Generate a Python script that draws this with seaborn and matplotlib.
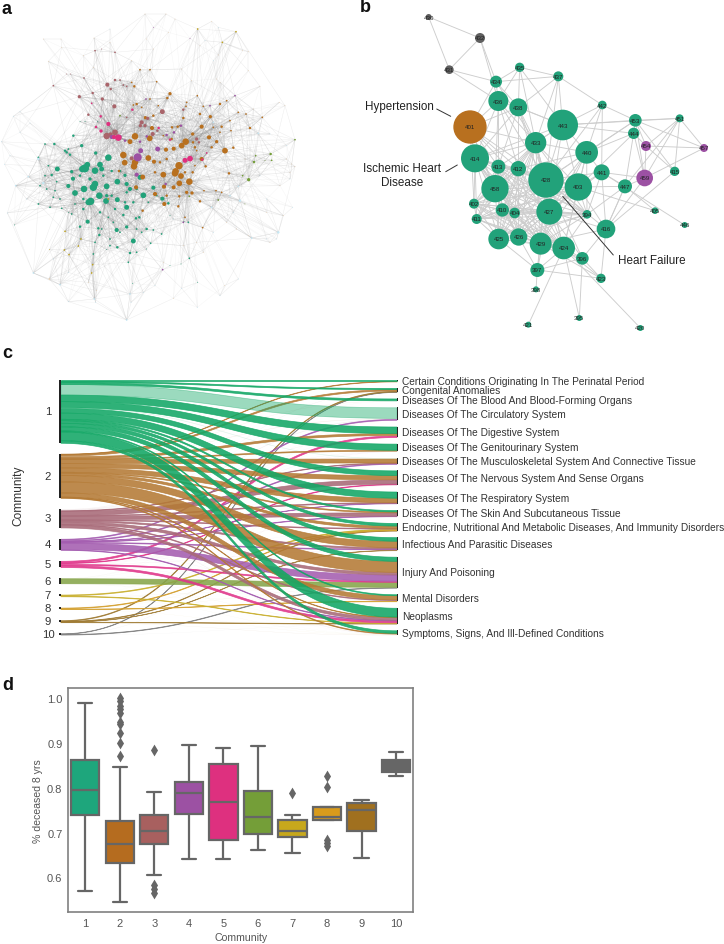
import itertools
import numpy as np
import pandas as pd
import matplotlib
matplotlib.use("Agg")
import matplotlib.pyplot as plt
from matplotlib.collections import LineCollection
import seaborn as sns

sns.set_theme(style="white")
plt.rcParams["font.family"] = ["Liberation Sans", "DejaVu Sans"]

W, H = 724, 945
fig = plt.figure(figsize=(W / 100, H / 100), dpi=100)


def make_ax(x0, y0, x1, y1):
    return fig.add_axes([x0 / W, 1 - y1 / H, (x1 - x0) / W, (y1 - y0) / H])


# ---------------------------------------------------------------- colours
NODE_COL = {"1": "#22a27a", "2": "#b8701f", "3": "#a9646a", "4": "#9c51a3", "5": "#e0307f",
            "6": "#749e38", "7": "#c2a51e", "8": "#d79b20", "9": "#a06f21", "10": "#5f5f5f",
            "lb": "#c5e8f5", "pe": "#f0d6b8"}
BOX_COL = ["#1ea67c", "#b56c1f", "#a8605f", "#9c51a3", "#de307f",
           "#749e38", "#c7a81c", "#d99b1c", "#a0701f", "#666666"]
FLOW_COL = ["#12a765", "#b47a35", "#a86a78", "#a45db0", "#e0358a",
            "#86a54a", "#c9b030", "#d4a030", "#a07c35", "#808080"]

# ---------------------------------------------------------------- panel a data
a_c1 = [(255,508,10),(247,510,8),(262,497,7),(325,476,8),(300,497,7),(285,515,8),(305,510,6),(172,510,6),(285,555,8),
        (280,565,9),(252,570,8),(225,582,7),(298,590,8),(320,562,7),(352,548,7),(318,606,7),(272,607,9),(265,610,7),
        (352,602,6),(430,589,7),(380,555,5),(390,570,5),(263,668,5),(380,625,6),(400,726,6),(350,693,5),(380,684,4),
        (205,561,5),(219,539,5),(215,518,4),(245,440,4),(287,462,4),(335,516,3),(360,516,3),(375,529,4),(420,535,6),
        (460,566,5),(487,599,5),(505,613,3),(200,460,3),(195,455,3),(210,467,3),(220,410,3),(135,435,2),(163,435,3),
        (115,475,2),(145,500,2),(155,528,3),(135,530,2),(165,575,2),(140,570,2),(160,595,2),(185,628,2),(215,645,2),
        (240,683,3),(295,688,3),(298,708,3),(285,730,2),(330,740,2),(352,745,3),(390,762,3),(410,760,2),(452,733,2),
        (440,690,3),(460,693,2),(485,705,2),(418,655,3),(408,658,3),(370,648,3),(325,655,2),(300,640,3),(250,630,3),
        (225,615,2),(150,625,2),(115,615,2),(43,678,1),(385,790,2),(568,778,2),(510,800,1),(543,795,1),(593,850,1),
        (398,853,1),(280,765,2),(240,368,1),(255,367,1),(292,367,1),(205,450,2),(170,548,2),(120,560,2),(180,600,2),
        (250,600,3),(310,530,3),(335,590,3),(345,630,3),(375,610,3),(400,610,3),(340,670,2),(360,700,2),(410,690,2),
        (425,700,2),(440,750,1),(330,720,2),(305,690,2),(320,752,1),(240,720,1),(205,640,1),(320,590,4),(270,540,4),
        (240,530,3),(380,580,3),(410,570,3),(445,610,2),(470,590,2),(565,670,2),(552,668,1),(510,650,1)]
a_c2 = [(370,468,8),(374,491,7),(405,490,8),(402,502,8),(445,477,7),(462,488,5),(498,452,5),(521,449,5),(545,440,7),
        (557,428,8),(537,500,9),(527,517,8),(525,523,8),(490,527,7),(543,531,7),(568,548,8),(538,553,7),(521,565,5),
        (492,563,5),(465,585,5),(493,615,5),(560,580,4),(576,582,4),(675,455,7),(605,383,5),(631,353,4),(627,415,5),
        (650,428,4),(700,446,3),(750,387,3),(578,405,4),(516,385,3),(533,383,3),(405,412,8),(390,428,6),(449,418,7),
        (456,387,5),(460,350,3),(436,356,4),(510,284,4),(502,297,3),(403,262,3),(395,250,2),(420,212,2),(450,212,2),
        (428,534,6),(408,565,5),(538,592,3),(600,607,3),(617,502,3),(605,480,5),(578,520,3),(579,430,3),(550,357,3),
        (560,310,2),(592,290,2),(600,345,3),(660,315,3),(680,305,2),(715,340,2),(738,345,2),(787,355,2),(690,365,2),
        (693,395,2),(640,385,2),(665,383,3),(610,322,2),(558,322,2),(410,315,3),(425,325,2),(400,318,2),(465,520,3),
        (480,490,3),(500,480,3),(515,420,3),(490,410,2),(540,380,2),(428,635,3),(555,655,2),(608,686,2),(535,622,3),
        (648,575,2),(665,580,2),(687,523,3),(612,575,2),(585,445,3),(357,516,3),(470,248,2),(450,300,2),(475,320,2),
        (590,455,2),(635,445,3),(660,400,2),(555,520,3),(585,500,2),(500,590,3)]
a_c3 = [(320,411,8),(345,400,7),(332,406,5),(487,338,6),(443,358,4),(425,370,5),(435,380,4),(421,380,4),(458,405,5),
        (472,395,3),(395,478,5),(343,322,5),(307,300,4),(278,282,3),(238,293,4),(265,347,3),(322,257,5),(332,270,3),
        (345,243,3),(360,243,2),(252,237,2),(285,155,2),(345,160,2),(160,260,2),(550,332,3),(590,420,4),(597,430,3),
        (212,225,1),(200,225,1),(305,150,1),(380,355,2),(370,258,2),(380,262,2)]
a_c4 = [(413,475,10),(422,455,6),(473,450,6),(410,527,5),(335,414,5),(360,413,4),(375,425,3),(420,428,3),(440,412,3),
        (500,408,3),(522,400,3),(543,380,3),(570,118,1),(460,85,1),(705,290,2),(630,320,2),(438,300,2),(488,812,2),
        (497,555,3),(550,670,2)]
a_c5 = [(355,416,8),(342,414,5),(325,375,5),(570,479,7),(555,484,6),(476,387,3),(397,332,3),(302,352,3),(288,384,3),
        (303,396,4),(510,422,3),(607,482,3),(620,462,2),(275,313,2)]
a_c6 = [(746,542,4),(762,489,3),(812,465,3),(767,470,2),(728,530,2),(815,484,2),(885,422,2),(795,485,1),(568,592,2),
        (655,603,2),(735,615,1),(360,350,2)]
a_c78 = [(195,697,2),(148,752,1),(193,753,2),(235,741,2),(243,720,2),(207,767,2),(278,797,2),(275,822,2),(325,600,2),
         (667,130,2),(708,98,2),(593,90,2)]
a_lb = [(5,428,1),(60,338,1),(40,352,1),(90,372,1),(115,480,3),(130,552,3),(47,560,2),(14,496,1),(85,533,2),(22,642,1),
        (100,822,2),(205,820,1),(180,857,2),(205,908,1),(380,963,2),(393,910,1),(390,885,2),(465,860,1),(592,925,1),
        (545,868,1),(660,890,1),(715,840,1),(835,700,3),(755,717,2),(878,625,1),(870,540,1),(720,605,3),(690,590,2),
        (635,625,2),(715,562,2),(775,403,2),(640,370,2),(330,90,1),(655,85,1),(615,125,1),(640,185,1),(283,900,2),
        (60,400,1),(30,470,1),(80,600,1),(160,780,1),(287,910,1),(430,880,1),(520,660,1),(800,600,1),(810,405,1),
        (860,440,1),(780,530,1),(700,640,1),(640,700,1),(830,720,1),(800,720,1)]
a_pe = [(435,45,1),(498,45,1),(525,60,1),(635,67,1),(745,158,1),(728,155,1),(655,168,1),(505,100,1),(282,117,1),(183,120,1),
        (145,187,1),(185,145,1),(280,205,1),(745,215,1),(650,240,1),(780,262,1),(855,320,1),(838,310,1),(885,503,1),(870,520,1),
        (875,495,1),(850,650,1),(810,730,1),(745,710,1),(710,690,1),(673,860,1),(520,898,1),(290,875,1),(265,850,1),(148,840,2),
        (460,150,1),(395,185,1),(545,210,1),(575,245,1),(680,670,1),(490,790,1),(550,740,1),(590,730,1),(610,760,1),(600,140,1),
        (130,120,1),(440,120,1),(330,130,1),(250,170,1),(760,330,1),(840,560,1),(860,480,1),(800,640,1),(735,480,1),(660,250,1)]
a_groups = {"1": a_c1, "2": a_c2, "3": a_c3, "4": a_c4, "5": a_c5, "6": a_c6, "7": a_c78, "lb": a_lb, "pe": a_pe}
# neighbour ranks linked from each node, by node radius: small nodes keep to their nearest neighbours, hubs reach far
a_ranks_small = [1, 2, 4]
a_ranks_mid = [1, 2, 3, 4, 6, 9, 13, 18, 25, 34]
a_ranks_large = [1, 2, 3, 4, 5, 6, 8, 10, 13, 16, 20, 25, 30, 36, 42, 50, 60, 70, 80, 95, 110, 130]
a_hub_links = 2

# ---------------------------------------------------------------- panel b data
b_nodes = ["430","432","431","435","437","434","436","438","442","443","453","444","451","433","440","414","413","412",
           "428","403","441","447","415","458","402","410","404","411","427","394","416","425","426","429","424","396",
           "397","423","398","421","395","420","405","446","401","454","457","459"]
b_x = [146,300,208,419,535,348,355,415,667,548,766,761,899,467,620,285,355,415,
       498,595,665,735,884,345,282,367,404,290,508,621,678,356,416,482,551,607,
       472,663,468,445,598,781,825,914,270,798,972,794]
b_y = [54,117,212,205,232,248,306,325,318,378,364,403,358,431,460,478,503,509,
       543,564,520,562,517,569,614,633,642,660,638,646,690,720,714,734,747,778,
       813,838,871,977,957,987,635,678,384,441,447,537]
b_r = [9,15,13,14,15,18,30,27,13,46,19,17,12,32,34,42,21,23,
       53,41,24,21,14,41,15,20,16,15,39,13,28,31,26,33,34,19,
       21,14,9,9,9,9,10,9,50,15,12,25]
b_comm = ["10","10","10"] + ["1"] * 41 + ["2", "4", "4", "4"]
b_core = ["414","413","412","428","458","402","410","404","411","427","394","425","426","429","424","403","433"]
b_edges = """430-432 430-431 431-432 432-434 432-436 431-434 431-436 435-434 435-436 435-438 435-437 435-433
435-443 434-437 434-436 434-438 436-438 437-438 437-443 437-433 437-442 437-428 442-443 442-440 442-453 442-441 442-428
443-453 443-444 443-451 443-433 443-440 443-428 443-438 443-403 443-427 453-451 453-444 453-454 453-459 453-415 453-428
453-440 444-454 444-459 444-447 444-440 444-403 451-454 451-459 451-415 451-447 454-457 454-459 454-415
457-453 457-451 457-459 459-447 459-441 459-416 415-416 447-441 447-403 447-416 447-405 441-403 441-440
441-428 441-446 440-403 440-428 440-433 440-412 440-427 403-405 436-401 436-433 436-414 436-413
436-412 436-428 436-458 438-401 438-433 438-443 438-428 438-412 438-413 438-427 434-433 434-401 433-443 433-428 433-427
401-414 401-413 401-412 401-428 401-458 401-433 401-427 401-402 401-410
414-443 414-438 397-425 397-426 397-429 397-424 397-427 397-428 397-396 397-423 416-403 416-428 416-427 416-429
397-398 421-424 395-424 395-396 420-424 423-396 423-424 423-416 423-429 396-428 396-427 396-416 396-429 396-424
416-441 416-447 394-441 394-447 394-440 429-440 424-440 427-441 426-440 425-433""".split()

# ---------------------------------------------------------------- panel c data
communities = ["1", "2", "3", "4", "5", "6", "7", "8", "9", "10"]
categories = ["Certain Conditions Originating In The Perinatal Period", "Congenital Anomalies",
              "Diseases Of The Blood And Blood-Forming Organs", "Diseases Of The Circulatory System",
              "Diseases Of The Digestive System", "Diseases Of The Genitourinary System",
              "Diseases Of The Musculoskeletal System And Connective Tissue",
              "Diseases Of The Nervous System And Sense Organs", "Diseases Of The Respiratory System",
              "Diseases Of The Skin And Subcutaneous Tissue",
              "Endocrine, Nutritional And Metabolic Diseases, And Immunity Disorders",
              "Infectious And Parasitic Diseases", "Injury And Poisoning", "Mental Disorders", "Neoplasms",
              "Symptoms, Signs, And Ill-Defined Conditions"]
flows = np.array([
    [1.2, 1.2, 1.8, 10.8, 6.5, 6.5, 0.6, 4.8, 6.2, 1.4, 2.4, 3.5, 3.8, 1.0, 9.3, 3.2],
    [0.5, 1.4, 0.3, 0.5, 2.0, 1.0, 3.5, 4.5, 4.6, 1.0, 2.2, 6.5, 10.5, 4.4, 0.6, 1.0],
    [0.0, 0.3, 0.1, 0.6, 0.3, 0.2, 0.5, 4.3, 0.8, 3.4, 0.7, 1.3, 2.4, 0.8, 2.8, 0.6],
    [0.0, 0.0, 0.0, 0.9, 0.2, 0.3, 0.7, 0.2, 0.4, 0.6, 0.0, 0.8, 6.0, 0.2, 0.7, 0.1],
    [0.0, 0.0, 0.0, 0.0, 1.5, 0.2, 0.0, 0.6, 0.2, 0.2, 0.1, 0.3, 1.0, 0.2, 2.0, 0.0],
    [0.0, 0.0, 0.0, 0.1, 0.1, 0.0, 0.0, 0.1, 0.0, 0.0, 0.0, 0.1, 4.9, 0.1, 0.2, 0.1],
    [0.0, 0.0, 0.0, 0.0, 0.0, 0.0, 0.0, 0.1, 0.0, 0.0, 0.7, 0.0, 0.2, 0.2, 0.6, 0.2],
    [0.0, 0.0, 0.0, 0.1, 0.0, 0.0, 0.0, 0.2, 0.0, 0.0, 0.6, 0.2, 0.2, 0.5, 0.0, 0.2],
    [0.0, 0.7, 0.0, 0.0, 0.0, 0.0, 0.0, 0.0, 0.0, 0.0, 0.5, 0.3, 0.0, 0.0, 0.5, 0.3],
    [0.0, 0.4, 0.0, 0.0, 0.0, 0.0, 0.0, 0.3, 0.0, 0.0, 0.0, 0.0, 0.5, 0.0, 0.2, 0.3],
])
faint_flows = {(0, 6), (1, 2), (1, 3), (2, 1), (2, 2), (2, 3), (2, 4), (2, 5), (2, 15), (3, 4), (3, 5), (3, 7), (3, 13),
               (3, 15), (4, 5), (4, 8), (4, 9), (4, 10), (4, 11), (4, 13), (5, 3), (5, 4), (5, 7), (5, 11), (5, 13),
               (5, 14), (5, 15), (6, 7), (6, 12), (6, 13), (6, 15), (7, 3), (7, 7), (7, 11), (7, 12), (7, 15), (8, 15),
               (9, 7), (9, 14), (9, 15)}
light_flows = {(0, 3)}
community_totals = [63.7, 44.7, 19.3, 11.3, 6.3, 5.7, 2.0, 2.0, 2.3, 1.7]
category_totals = [1.7, 4.0, 2.3, 12.7, 10.6, 7.7, 6.0, 14.6, 12.0, 6.4, 7.7, 13.0, 31.0, 7.0, 16.0, 4.7]

# ---------------------------------------------------------------- panel d data
box_low = [0.5695, 0.546, 0.605, 0.642, 0.640, 0.662, 0.6535, 0.729, 0.644, 0.827]
box_q1 = [0.738, 0.631, 0.674, 0.741, 0.684, 0.696, 0.691, 0.729, 0.704, 0.834]
box_med = [0.7955, 0.674, 0.704, 0.787, 0.767, 0.735, 0.704, 0.735, 0.750, 0.850]
box_q3 = [0.862, 0.726, 0.738, 0.8126, 0.852, 0.793, 0.728, 0.758, 0.7665, 0.862]
box_high = [0.989, 0.847, 0.790, 0.896, 0.888, 0.893, 0.740, 0.758, 0.772, 0.879]
outliers = {"2": [0.871, 0.899, 0.923, 0.943, 0.947, 0.966, 0.975, 0.983, 0.994, 1.001],
            "3": [0.884, 0.584, 0.574, 0.566], "7": [0.789], "8": [0.826, 0.802, 0.684, 0.677, 0.669]}

# ================================================================= panel a
ax_a = make_ax(0, 0, 350, 340)
df_a = pd.DataFrame([(x, y, r, g) for g, pts in a_groups.items() for x, y, r in pts], columns=["x", "y", "r", "group"])
xy = df_a[["x", "y"]].to_numpy(float)
radii = df_a["r"].to_numpy()
dist = np.linalg.norm(xy[:, None] - xy[None, :], axis=2)
order = np.argsort(dist, axis=1)
hubs = np.where(radii >= 7)[0]
outer_segs, inner_segs = [], []
for i in range(len(xy)):
    target = outer_segs if radii[i] <= 1 else inner_segs
    ranks = a_ranks_small if radii[i] <= 1 else a_ranks_mid if radii[i] <= 3 else a_ranks_large
    target += [[xy[i], xy[order[i, k]]] for k in ranks]
    near_hubs = hubs[np.argsort(dist[i, hubs])][1:1 + a_hub_links]
    target += [[xy[i], xy[h]] for h in near_hubs]
ax_a.add_collection(LineCollection(outer_segs, colors="#8f8f8f", linewidths=0.35, alpha=0.08, zorder=1))
ax_a.add_collection(LineCollection(inner_segs, colors="#8f8f8f", linewidths=0.35, alpha=0.16, zorder=1))
sizes_a = {r: 1.5 * (2 * r / 3 * 0.72) ** 2 for r in df_a["r"].unique()}
sns.scatterplot(data=df_a, x="x", y="y", hue="group", palette=NODE_COL, size="r", sizes=sizes_a,
                linewidth=0, legend=False, zorder=3, ax=ax_a)
ax_a.set(xlim=(0, 1050), ylim=(1020, 0), xlabel="", ylabel="")
ax_a.axis("off")

# ================================================================= panel b
ax_b = make_ax(380, 0, 724, 340)
df_b = pd.DataFrame({"label": b_nodes, "x": b_x, "y": b_y, "r": b_r, "comm": b_comm})
pos = {l: (x, y) for l, x, y in zip(b_nodes, b_x, b_y)}
pairs = {tuple(e.split("-")) for e in b_edges} | set(itertools.combinations(b_core, 2))
ax_b.add_collection(LineCollection([[pos[a], pos[b]] for a, b in pairs], colors="#cdcdcd", linewidths=0.65, zorder=1))
sizes_b = {r: (2 * r / 3 * 0.72) ** 2 for r in df_b["r"].unique()}
sns.scatterplot(data=df_b, x="x", y="y", hue="comm", palette=NODE_COL, size="r", sizes=sizes_b,
                linewidth=0, legend=False, zorder=3, ax=ax_b)
for l, x, y in zip(b_nodes, b_x, b_y):
    ax_b.text(x, y, l, fontsize=4.4, color="#222222", ha="center", va="center", zorder=4)
ax_b.set(xlim=(0, 1032), ylim=(1020, 0), xlabel="", ylabel="")
ax_b.axis("off")

# ================================================================= panel c
ax_c = make_ax(0, 345, 724, 660)
m = flows.copy()
for _ in range(60):
    m *= (np.array(community_totals) / m.sum(axis=1))[:, None]
    m *= (np.array(category_totals) / m.sum(axis=0))[None, :]
TOP, BOTTOM = 380.7, 636.0
left_gap = (BOTTOM - TOP - m.sum(axis=1).sum()) / (len(communities) - 1)
right_gap = (BOTTOM - TOP - m.sum(axis=0).sum()) / (len(categories) - 1)
left_top = TOP + np.r_[0, np.cumsum(m.sum(axis=1)[:-1] + left_gap)]
right_top = TOP + np.r_[0, np.cumsum(m.sum(axis=0)[:-1] + right_gap)]
XL, XR = 60.5, 396.5
t = np.linspace(0, 1, 120)
xm = (XL + XR) / 2
xs = (1 - t) ** 3 * XL + 3 * (1 - t) ** 2 * t * xm + 3 * (1 - t) * t ** 2 * xm + t ** 3 * XR
ease = 3 * t ** 2 - 2 * t ** 3

ribbons = []
for i in range(len(communities)):
    for j in range(len(categories)):
        if flows[i, j] > 0:
            y0 = left_top[i] + m[i, :j].sum()
            y1 = right_top[j] + m[:i, j].sum()
            ribbons.append((i, j, y0, y1, m[i, j]))
strength = lambda r: 0 if (r[0], r[1]) in faint_flows else 1
for i, j, y0, y1, w in sorted(ribbons, key=lambda r: (strength(r), -r[0])):
    yy = y0 + (y1 - y0) * ease
    faint = (i, j) in faint_flows
    alpha = 0.13 if faint else 0.42 if (i, j) in light_flows else 0.88
    ax_c.fill_between(xs, yy, yy + w, color=FLOW_COL[i], alpha=alpha, linewidth=0 if faint else 0.5, zorder=2)
for i, name in enumerate(communities):
    h = m[i].sum()
    ax_c.fill_between([XL - 1.5, XL], left_top[i], left_top[i] + h, color="#222222", linewidth=0, zorder=5)
    ax_c.text(48, left_top[i] + h / 2, name, ha="center", va="center", fontsize=8.2, color="#333333")
for j, name in enumerate(categories):
    h = m[:, j].sum()
    ax_c.fill_between([XR, XR + 1.3], right_top[j], right_top[j] + h, color="#222222", linewidth=0, zorder=5)
    ax_c.text(401.7, right_top[j] + h / 2, name, ha="left", va="center", fontsize=7.27, color="#333333")
ax_c.text(18, 496, "Community", rotation=90, ha="center", va="center", fontsize=8.6, color="#333333")
ax_c.set(xlim=(0, 724), ylim=(660, 345))
ax_c.axis("off")

# ================================================================= panel d
ax_d = make_ax(68, 689, 413.3, 913)
df_d = pd.DataFrame({"community": np.repeat(communities, 5),
                     "value": np.ravel(np.column_stack([box_low, box_q1, box_med, box_q3, box_high]))})
sns.boxplot(data=df_d, x="community", y="value", hue="community", order=communities, hue_order=communities,
            palette=BOX_COL, saturation=1, whis=(0, 100), fliersize=0, width=0.82, linewidth=1.6,
            linecolor="#666666", legend=False, ax=ax_d)
df_out = pd.DataFrame([(c, v) for c, vals in outliers.items() for v in vals], columns=["community", "value"])
sns.stripplot(data=df_out, x="community", y="value", order=communities, jitter=False, marker="d", size=6,
              color="#666666", linewidth=0, ax=ax_d)
ax_d.set_xlim(-0.5, 9.5)
ax_d.set_ylim(0.5227, 1.0223)
ax_d.set_yticks([0.6, 0.7, 0.8, 0.9, 1.0])
ax_d.set_xlabel("Community", fontsize=7.6, color="#555555", labelpad=3)
ax_d.set_ylabel("% deceased 8 yrs", fontsize=7.6, color="#555555", labelpad=3)
ax_d.tick_params(axis="both", labelsize=8, labelcolor="#555555", length=0, pad=4)
for s in ax_d.spines.values():
    s.set_color("#808080")
    s.set_linewidth(1.2)

# ================================================================= overlay text
ov = make_ax(0, 0, W, H)
ov.set(xlim=(0, W), ylim=(H, 0))
ov.axis("off")
ov.patch.set_alpha(0)
for letter, x, y in [("a", 2, 9), ("b", 360, 8), ("c", 2, 353), ("d", 2, 686)]:
    ov.text(x, y, letter, fontsize=13, fontweight="bold", color="#111111", ha="left", va="center")
ann = dict(fontsize=8.4, color="#222222", va="center")
ov.text(365, 107, "Hypertension", ha="left", **ann)
ov.text(402, 176, "Ischemic Heart\nDisease", ha="center", linespacing=1.15, **ann)
ov.text(618.3, 260.5, "Heart Failure", ha="left", **ann)
for (x0, y0), (x1, y1) in [((436.7, 110), (450.7, 117.3)), ((445.7, 172.7), (457.3, 166)),
                           ((562.7, 197.3), (613.3, 256))]:
    ov.plot([x0, x1], [y0, y1], color="#333333", lw=0.7)

fig.savefig("out.png", dpi=100)
